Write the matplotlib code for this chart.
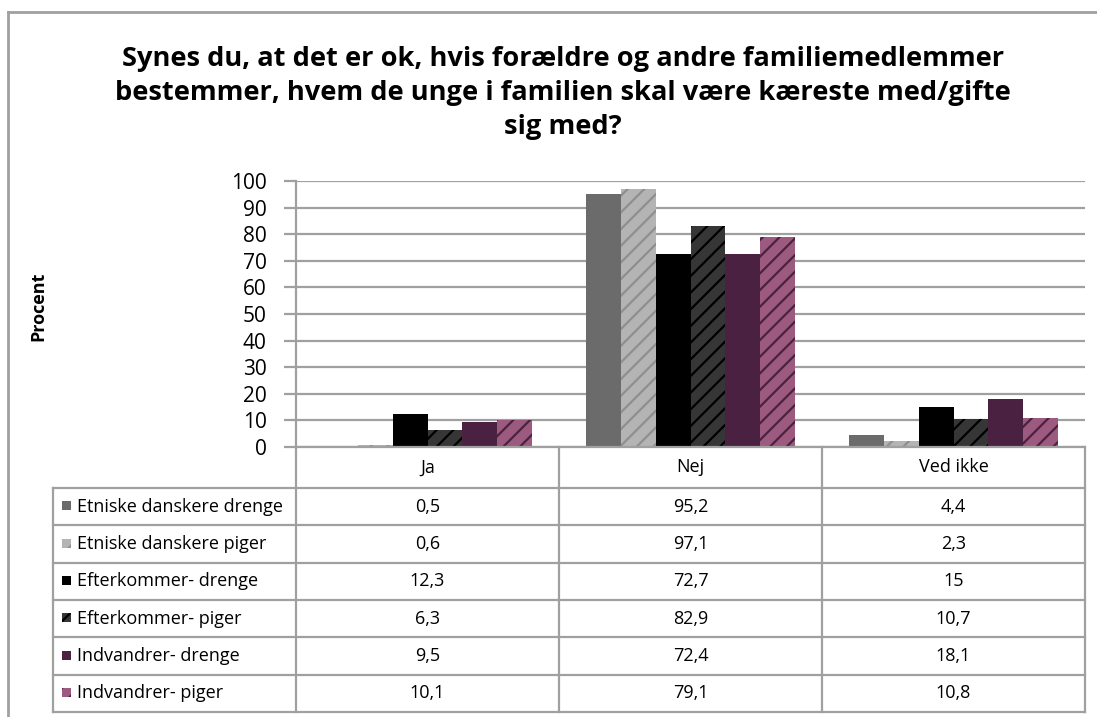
import matplotlib
matplotlib.use("Agg")
import matplotlib.pyplot as plt
from matplotlib.patches import Rectangle
from matplotlib.lines import Line2D
import numpy as np

plt.rcParams['font.family'] = ['Open Sans', 'DejaVu Sans']
plt.rcParams['hatch.linewidth'] = 1.6

categories = ["Ja", "Nej", "Ved ikke"]
series_names = ["Etniske danskere drenge", "Etniske danskere piger",
                "Efterkommer- drenge", "Efterkommer- piger",
                "Indvandrer- drenge", "Indvandrer- piger"]
values = [
    [0.5, 95.2, 4.4],
    [0.6, 97.1, 2.3],
    [12.3, 72.7, 15],
    [6.3, 82.9, 10.7],
    [9.5, 72.4, 18.1],
    [10.1, 79.1, 10.8],
]
value_labels = [
    ["0,5", "95,2", "4,4"],
    ["0,6", "97,1", "2,3"],
    ["12,3", "72,7", "15"],
    ["6,3", "82,9", "10,7"],
    ["9,5", "72,4", "18,1"],
    ["10,1", "79,1", "10,8"],
]
yticks = [0, 10, 20, 30, 40, 50, 60, 70, 80, 90, 100]
title = ("Synes du, at det er ok, hvis forældre og andre familiemedlemmer\n"
         "bestemmer, hvem de unge i familien skal være kæreste med/gifte\n"
         "sig med?")
ylabel = "Procent"

face_colors = ["#6b6b6b", "#b4b4b4", "#000000", "#363636", "#4b2142", "#9c5a7e"]
hatch_colors = [None, "#8f8f8f", None, "#000000", None, "#4b2142"]
hatches = [None, "//", None, "//", None, "//"]

W, H = 1097, 717
fig = plt.figure(figsize=(W / 100, H / 100), dpi=100)

def fx(px):
    return px / W

def fy(py):
    return 1 - py / H

grid_c = "#a0a0a0"

# plot area
L, R, T, B = 296, 1085, 181, 447
ax = fig.add_axes([fx(L), fy(B), fx(R - L), (B - T) / H])
n = len(series_names)
group_w = 0.795
bw = group_w / n
x = np.arange(len(categories))
for i in range(n):
    xs = x - group_w / 2 + bw * (i + 0.5)
    ax.bar(xs, values[i], width=bw, color=face_colors[i],
           edgecolor=hatch_colors[i] if hatch_colors[i] else face_colors[i],
           linewidth=0, hatch=hatches[i], zorder=3)
ax.set_xlim(-0.5, len(categories) - 0.5)
ax.set_ylim(0, 100)
ax.set_yticks(yticks)
ax.set_xticks([])
ax.tick_params(axis='y', length=9, width=1.6, color=grid_c, labelsize=15, pad=12)
ax.grid(axis='y', color=grid_c, linewidth=1.6, zorder=0)
for s in ["top", "right", "bottom"]:
    ax.spines[s].set_visible(False)
ax.spines["left"].set_color(grid_c)
ax.spines["left"].set_linewidth(1.6)
ax.set_facecolor("none")

# table
TL, TB = 53, 712
tax = fig.add_axes([fx(TL), fy(TB), fx(R - TL), (TB - B) / H])
left_units = (L - TL) / (R - L) * len(categories)
tax.set_xlim(-0.5 - left_units, len(categories) - 0.5)
tax.set_ylim(TB - B, 0)
tax.axis("off")
header_h = 41
row_h = (TB - B - header_h) / n
lw = 1.6
tax.plot([-0.5, len(categories) - 0.5], [0, 0], color=grid_c, lw=lw, clip_on=False)
for r in range(n + 1):
    yy = header_h + r * row_h
    tax.plot([-0.5 - left_units, len(categories) - 0.5], [yy, yy], color=grid_c, lw=lw, clip_on=False)
for k in range(len(categories) + 1):
    xx = k - 0.5
    tax.plot([xx, xx], [0, TB - B], color=grid_c, lw=lw, clip_on=False)
tax.plot([-0.5 - left_units] * 2, [header_h, TB - B], color=grid_c, lw=lw, clip_on=False)

fs_tab = 13
for j, c in enumerate(categories):
    tax.text(j, header_h / 2, c, ha="center", va="center", fontsize=fs_tab)
unit_per_px = (len(categories) + left_units) / (R - TL)
for i in range(n):
    yc = header_h + (i + 0.5) * row_h
    x0 = -0.5 - left_units
    sq = 9 * unit_per_px
    tax.add_patch(Rectangle((x0 + 9 * unit_per_px, yc - 5.5), sq, 9,
                            facecolor=face_colors[i],
                            edgecolor=hatch_colors[i] if hatch_colors[i] else face_colors[i],
                            lw=0, hatch=hatches[i], clip_on=False))
    tax.text(x0 + 24 * unit_per_px, yc, series_names[i], ha="left", va="center", fontsize=fs_tab)
    for j in range(len(categories)):
        tax.text(j, yc, value_labels[i][j], ha="center", va="center", fontsize=fs_tab)

# title and ylabel
fig.text(fx(563), fy(93), title, ha="center", va="center", fontsize=19.6,
         fontweight="bold", linespacing=1.42)
fig.text(fx(38), fy(306), ylabel, rotation=90, ha="center", va="center",
         fontsize=13, fontweight="bold")

# outer frame
fig.add_artist(Line2D([fx(8), fx(8)], [fy(12), fy(717)], color=grid_c, lw=2))
fig.add_artist(Line2D([fx(8), fx(1097)], [fy(12), fy(12)], color=grid_c, lw=2))

fig.savefig("out.png", dpi=100)
